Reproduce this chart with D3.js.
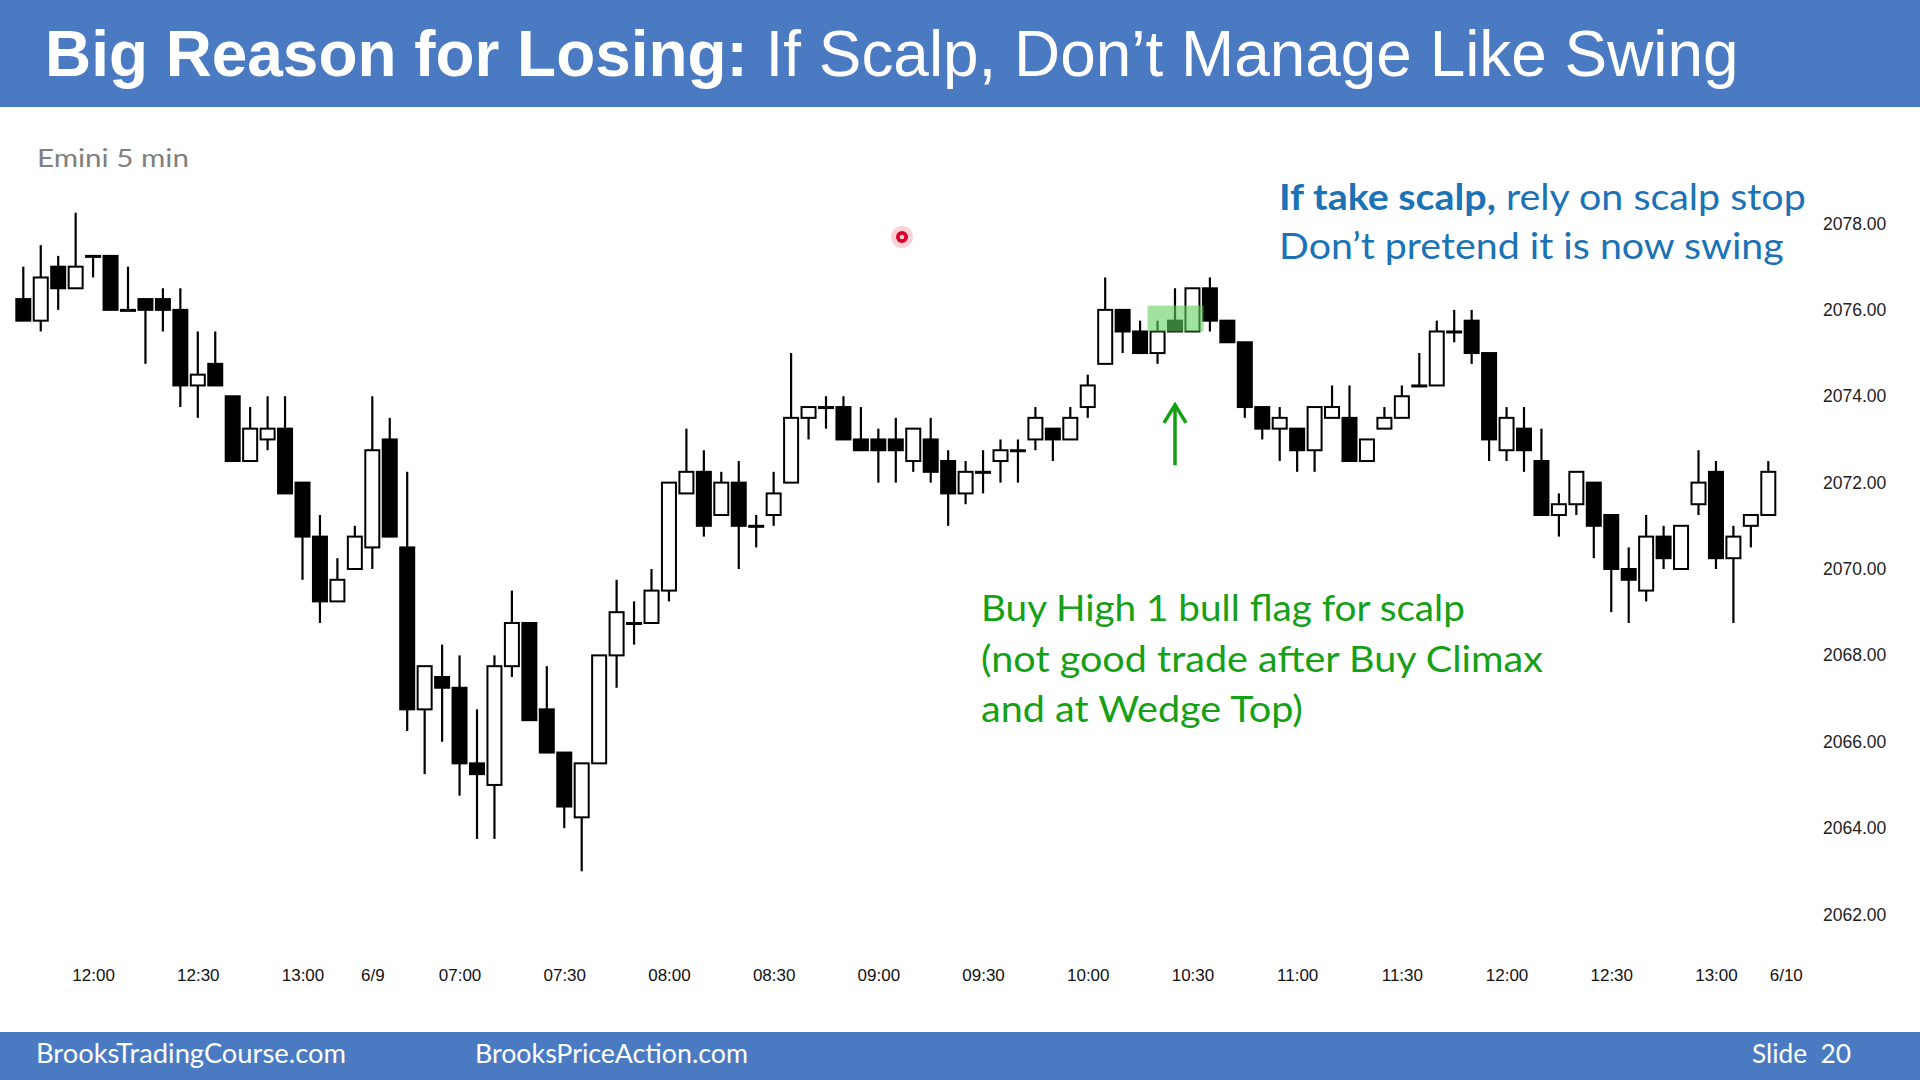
<!DOCTYPE html>
<html>
<head>
<meta charset="utf-8">
<script src="https://cdn.jsdelivr.net/npm/d3@7"></script>
<style>
  body { margin: 0; background: #fff; }
  svg { display: block; }
</style>
</head>
<body>
<div id="chart"></div>
<script>
// Emini 5 min bars, 6/8 11:40 .. 13:15 then 6/9 06:35 .. 13:15
var opens = [2076.25, 2075.75, 2077, 2076.5, 2077.25, 2077.25, 2076, 2076.25, 2076.25, 2076,
  2074.25, 2074.75, 2074, 2072.5, 2073, 2073.25, 2072, 2070.75, 2069.25, 2070,
  2070.5, 2073, 2070.5, 2066.75, 2067.5, 2067.25, 2065.5, 2065, 2067.75, 2068.75,
  2066.75, 2065.75, 2064.25, 2065.5, 2068, 2068.75, 2068.75, 2069.5, 2071.75, 2072.25,
  2071.25, 2072, 2071, 2071.25, 2072, 2073.5, 2073.75, 2073.75, 2073, 2073,
  2073, 2072.5, 2073, 2072.5, 2071.75, 2072.25, 2072.5, 2072.75, 2073, 2073.25,
  2073, 2073.75, 2074.75, 2076, 2075.5, 2075, 2075.75, 2075.5, 2076.5, 2075.75,
  2075.25, 2073.75, 2073.25, 2073.25, 2072.75, 2073.5, 2073.5, 2072.5, 2073.25, 2073.5,
  2074.25, 2074.25, 2075.5, 2075.75, 2075, 2072.75, 2073.25, 2072.5, 2071.25, 2071.5,
  2072, 2071.25, 2070, 2069.5, 2070.75, 2070, 2071.5, 2072.25, 2070.25, 2071,
  2071.25];
var highs = [2077, 2077.5, 2077.25, 2078.25, 2077.25, 2077.25, 2077, 2076.25, 2076.5, 2076.5,
  2075.5, 2075.5, 2074, 2073.75, 2074, 2074, 2072, 2071.25, 2070.25, 2071,
  2074, 2073.5, 2072.25, 2067.75, 2068.25, 2068, 2066.75, 2068, 2069.5, 2068.75,
  2067.75, 2065.75, 2065.5, 2068, 2069.75, 2069.25, 2070, 2072, 2073.25, 2072.75,
  2072.25, 2072.5, 2071.25, 2072.25, 2075, 2073.75, 2074, 2074, 2073.75, 2073.25,
  2073.5, 2073.25, 2073.5, 2072.75, 2072.5, 2072.75, 2073, 2073, 2073.75, 2073.25,
  2073.75, 2074.5, 2076.75, 2076, 2075.75, 2075.75, 2076.5, 2076.5, 2076.75, 2075.75,
  2075.25, 2073.75, 2073.75, 2073.25, 2073.75, 2074.25, 2074.25, 2073, 2073.75, 2074.25,
  2075, 2075.75, 2076, 2076, 2075, 2073.75, 2073.75, 2073.25, 2071.75, 2072.25,
  2072, 2071.25, 2070.5, 2071.25, 2071, 2071, 2072.75, 2072.5, 2071, 2071.25,
  2072.5];
var lows = [2075.75, 2075.5, 2076, 2076.5, 2076.75, 2076, 2076, 2074.75, 2075.5, 2073.75,
  2073.5, 2074.25, 2072.5, 2072.5, 2072.75, 2071.75, 2069.75, 2068.75, 2069.25, 2070,
  2070, 2070.75, 2066.25, 2065.25, 2066, 2064.75, 2063.75, 2063.75, 2067.5, 2066.5,
  2065.75, 2064, 2063, 2065.5, 2067.25, 2068.25, 2068.75, 2069.25, 2071.75, 2070.75,
  2071.25, 2070, 2070.5, 2071, 2072, 2073, 2073.25, 2073, 2072.75, 2072,
  2072, 2072.25, 2072, 2071, 2071.5, 2071.75, 2072, 2072, 2072.75, 2072.5,
  2073, 2073.5, 2074.75, 2075, 2075, 2074.75, 2075.5, 2075.5, 2075.5, 2075.25,
  2073.5, 2073, 2072.5, 2072.25, 2072.25, 2073.5, 2072.5, 2072.5, 2073.25, 2073.5,
  2074.25, 2074.25, 2075.25, 2074.75, 2072.5, 2072.5, 2072.25, 2071.25, 2070.75, 2071.25,
  2070.25, 2069, 2068.75, 2069.25, 2070, 2070, 2071.25, 2070, 2068.75, 2070.5,
  2071.25];
var closes = [2075.75, 2076.75, 2076.5, 2077, 2077.25, 2076, 2076, 2076, 2076, 2074.25,
  2074.5, 2074.25, 2072.5, 2073.25, 2073.25, 2071.75, 2070.75, 2069.25, 2069.75, 2070.75,
  2072.75, 2070.75, 2066.75, 2067.75, 2067.25, 2065.5, 2065.25, 2067.75, 2068.75, 2066.5,
  2065.75, 2064.5, 2065.5, 2068, 2069, 2068.75, 2069.5, 2072, 2072.25, 2071,
  2072, 2071, 2071, 2071.75, 2073.5, 2073.75, 2073.75, 2073, 2072.75, 2072.75,
  2072.75, 2073.25, 2072.25, 2071.75, 2072.25, 2072.25, 2072.75, 2072.75, 2073.5, 2073,
  2073.5, 2074.25, 2076, 2075.5, 2075, 2075.5, 2075.5, 2076.5, 2075.75, 2075.25,
  2073.75, 2073.25, 2073.5, 2072.75, 2073.75, 2073.75, 2072.5, 2073, 2073.5, 2074,
  2074.25, 2075.5, 2075.5, 2075, 2073, 2073.5, 2072.75, 2071.25, 2071.5, 2072.25,
  2071, 2070, 2069.75, 2070.75, 2070.25, 2071, 2072, 2070.25, 2070.75, 2071.25,
  2072.25];

// x axis ticks (bar index) and their labels
var tickIndex = [4, 10, 16, 20, 25, 31, 37, 43, 49, 55, 61, 67, 73, 79, 85, 91, 97, 101];
var tickLabels = ["12:00", "12:30", "13:00", "6/9", "07:00", "07:30", "08:00", "08:30", "09:00",
  "09:30", "10:00", "10:30", "11:00", "11:30", "12:00", "12:30", "13:00", "6/10"];
var priceTicks = [2062, 2064, 2066, 2068, 2070, 2072, 2074, 2076, 2078];

// signal bar highlight and arrow
var highlightBars = [65, 67];
var highlightPrice = [2075.5, 2076.1];
var arrowBar = 66;
var arrowPrice = [2072.4, 2073.8];

var width = 1920, height = 1080;
var calibri = "Lato, 'Open Sans', sans-serif";
var arial = "'Liberation Sans', Arial, sans-serif";

var svg = d3.select("#chart").append("svg")
  .attr("width", width)
  .attr("height", height);

svg.append("rect").attr("width", width).attr("height", height).attr("fill", "#fff");

// scales
var x = d3.scaleLinear().domain([0, 101]).range([23.3, 23.3 + 101 * 17.45]);
var y = d3.scaleLinear().domain([2062, 2078]).range([914.5, 223.5]);

// stretch a text so it spans x0..x1
function fitText(t, x0, x1, y0) {
  var w = t.node().getComputedTextLength();
  t.attr("transform", "translate(" + x0 + "," + y0 + ") scale(" + ((x1 - x0) / w) + ",1)");
}

// header and footer bands
svg.append("rect").attr("x", 0).attr("y", 0).attr("width", width).attr("height", 107).attr("fill", "#4a7bc2");
svg.append("rect").attr("x", 0).attr("y", 1032).attr("width", width).attr("height", 48).attr("fill", "#4a7bc2");

var title = svg.append("text")
  .attr("font-family", arial)
  .attr("font-size", 64)
  .attr("fill", "#fff");
title.append("tspan").attr("font-weight", "bold").text("Big Reason for Losing:");
title.append("tspan").text(" If Scalp, Don\u2019t Manage Like Swing");
fitText(title, 45, 1739, 76);

var foot1 = svg.append("text").attr("font-family", calibri).attr("font-size", 27).attr("fill", "#fff")
  .text("BrooksTradingCourse.com");
fitText(foot1, 36, 346, 1063);
var foot2 = svg.append("text").attr("font-family", calibri).attr("font-size", 27).attr("fill", "#fff")
  .text("BrooksPriceAction.com");
fitText(foot2, 475, 748, 1063);
var foot3 = svg.append("text").attr("font-family", calibri).attr("font-size", 27).attr("fill", "#fff")
  .style("white-space", "pre")
  .text("Slide  20");
fitText(foot3, 1752, 1851, 1063);

var emini = svg.append("text").attr("font-family", calibri).attr("font-size", 25).attr("fill", "#7f7f7f")
  .text("Emini 5 min");
fitText(emini, 37, 189, 167);

// axes
var yAxis = d3.axisRight(y)
  .tickValues(priceTicks)
  .tickFormat(d3.format(".2f"))
  .tickSize(0)
  .tickPadding(0);

svg.append("g")
  .attr("transform", "translate(1823,0)")
  .call(yAxis)
  .call(function(g) { g.select(".domain").remove(); })
  .attr("font-family", arial)
  .attr("font-size", 17.5)
  .selectAll("text").attr("fill", "#222");

var xAxis = d3.axisBottom(x)
  .tickValues(tickIndex)
  .tickFormat(function(d) { return tickLabels[tickIndex.indexOf(d)]; })
  .tickSize(0)
  .tickPadding(0);

svg.append("g")
  .attr("transform", "translate(0,969)")
  .call(xAxis)
  .call(function(g) { g.select(".domain").remove(); })
  .attr("font-family", arial)
  .attr("font-size", 17)
  .selectAll("text").attr("fill", "#111");

// candles
var bars = opens.map(function(o, i) {
  return { i: i, o: o, h: highs[i], l: lows[i], c: closes[i] };
});
var bodyW = 14;
var cg = svg.append("g");

cg.selectAll(".wick")
  .data(bars)
  .enter().append("line")
  .attr("class", "wick")
  .attr("x1", function(d) { return x(d.i); })
  .attr("x2", function(d) { return x(d.i); })
  .attr("y1", function(d) { return y(d.h); })
  .attr("y2", function(d) { return y(d.l); })
  .attr("stroke", "#000")
  .attr("stroke-width", 2.2);

cg.selectAll(".body")
  .data(bars)
  .enter().append("rect")
  .attr("class", "body")
  .attr("x", function(d) { return x(d.i) - bodyW / 2; })
  .attr("y", function(d) { return y(Math.max(d.o, d.c)); })
  .attr("width", bodyW)
  .attr("height", function(d) { return Math.max(1, Math.abs(y(d.o) - y(d.c))); })
  .attr("fill", function(d) { return d.c > d.o ? "#fff" : "#000"; })
  .attr("stroke", "#000")
  .attr("stroke-width", 2);

// green highlight over the signal bars
svg.append("rect")
  .attr("x", x(highlightBars[0]) - 10)
  .attr("y", y(highlightPrice[1]))
  .attr("width", x(highlightBars[1]) - x(highlightBars[0]) + 21)
  .attr("height", y(highlightPrice[0]) - y(highlightPrice[1]))
  .attr("fill", "#5fd05f")
  .attr("opacity", 0.6);

// arrow
var ax = x(arrowBar), ay0 = y(arrowPrice[0]), ay1 = y(arrowPrice[1]);
svg.append("path")
  .attr("d", "M" + ax + "," + ay0 + "V" + ay1 + "M" + (ax - 11) + "," + (ay1 + 18) + "L" + ax + "," + ay1 + "L" + (ax + 11) + "," + (ay1 + 18))
  .attr("fill", "none")
  .attr("stroke", "#12a012")
  .attr("stroke-width", 3.5);

// annotations
var blue1 = svg.append("text").attr("font-family", calibri).attr("font-size", 36).attr("fill", "#1b72b6");
blue1.append("tspan").attr("font-weight", "bold").text("If take scalp,");
blue1.append("tspan").text(" rely on scalp stop");
fitText(blue1, 1279, 1806, 210);
var blue2 = svg.append("text").attr("font-family", calibri).attr("font-size", 36).attr("fill", "#1b72b6")
  .text("Don\u2019t pretend it is now swing");
fitText(blue2, 1279, 1784, 259);

var greenLines = ["Buy High 1 bull flag for scalp", "(not good trade after Buy Climax", "and at Wedge Top)"];
var greenEnds = [1465, 1543, 1303];
greenLines.forEach(function(s, k) {
  var t = svg.append("text").attr("font-family", calibri).attr("font-size", 36).attr("fill", "#16a016").text(s);
  fitText(t, 981, greenEnds[k], 621 + k * 50.5);
});

// laser pointer dot
svg.append("circle").attr("cx", 902).attr("cy", 237).attr("r", 11).attr("fill", "rgba(235,0,40,0.18)");
svg.append("circle").attr("cx", 902).attr("cy", 237).attr("r", 6).attr("fill", "#d9002c");
svg.append("circle").attr("cx", 902).attr("cy", 237).attr("r", 2.2).attr("fill", "#ffd6dd");
</script>
</body>
</html>
